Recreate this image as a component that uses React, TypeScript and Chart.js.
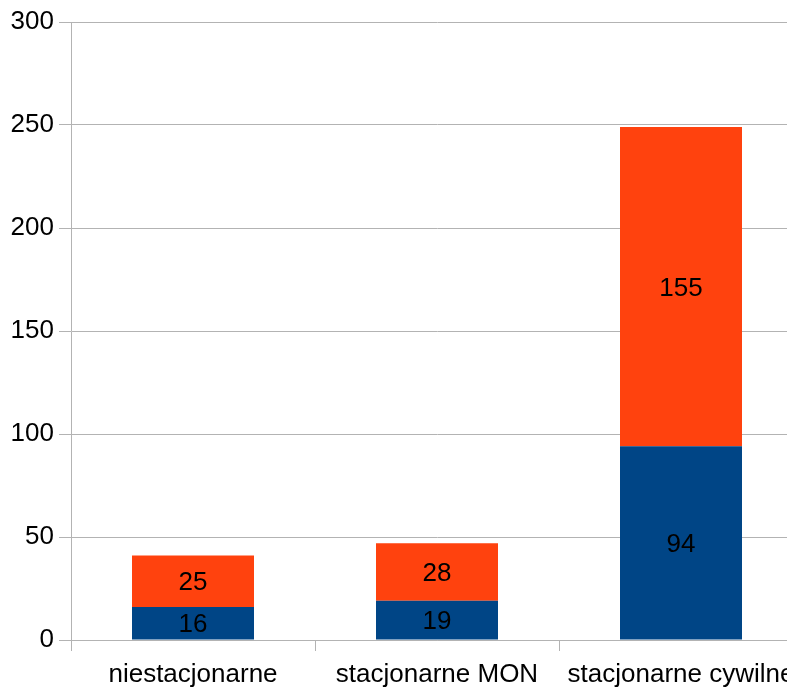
import React, { useEffect, useRef } from "react";
import { Chart, registerables } from "chart.js";

Chart.register(...registerables);

const categories = ["niestacjonarne", "stacjonarne MON", "stacjonarne cywilne"];
const seriesBlue = [16, 19, 94];
const seriesOrange = [25, 28, 155];
const yTicks = [0, 50, 100, 150, 200, 250, 300];

const FONT = "'Liberation Sans', Arial, sans-serif";
const GRID = "#b3b3b3";

const labelPlugin = {
  id: "segLabels",
  afterDatasetsDraw(chart: any) {
    const ctx = chart.ctx;
    ctx.save();
    ctx.font = `26px ${FONT}`;
    ctx.fillStyle = "#000";
    ctx.textAlign = "center";
    ctx.textBaseline = "middle";
    chart.data.datasets.forEach((ds: any, i: number) => {
      const meta = chart.getDatasetMeta(i);
      meta.data.forEach((bar: any, j: number) => {
        const top = Math.min(bar.y, bar.base);
        const bottom = Math.max(bar.y, bar.base);
        ctx.fillText(String(ds.data[j]), bar.x, (top + bottom) / 2 + 2);
      });
    });
    ctx.restore();
  },
};

export default function App() {
  const ref = useRef<HTMLCanvasElement | null>(null);
  useEffect(() => {
    if (!ref.current) return;
    const chart = new Chart(ref.current, {
      type: "bar",
      data: {
        labels: categories,
        datasets: [
          { label: "A", data: seriesBlue, backgroundColor: "#004586", barPercentage: 0.5, categoryPercentage: 1 },
          { label: "B", data: seriesOrange, backgroundColor: "#ff420e", barPercentage: 0.5, categoryPercentage: 1 },
        ],
      },
      options: {
        responsive: false,
        animation: false,
        layout: { padding: { top: 22, right: 17, left: 0, bottom: 0 } },
        plugins: { legend: { display: false }, tooltip: { enabled: false } },
        scales: {
          x: {
            stacked: true,
            grid: { display: true, drawOnChartArea: false, color: GRID, tickLength: 11, offset: true },
            border: { color: GRID },
            ticks: { color: "#000", font: { family: FONT, size: 26 }, maxRotation: 0, autoSkip: false, padding: 8 },
            afterFit: (s: any) => { s.height = 48; },
          },
          y: {
            stacked: true,
            min: 0,
            max: 300,
            afterBuildTicks: (s: any) => { s.ticks = yTicks.map((v) => ({ value: v })); },
            grid: { color: GRID, tickLength: 12 },
            border: { color: GRID },
            ticks: { color: "#000", font: { family: FONT, size: 26 }, padding: 5 },
            afterFit: (s: any) => { s.width = 71; },
          },
        },
      },
      plugins: [labelPlugin],
    });
    return () => chart.destroy();
  }, []);
  return (
    <div style={{ position: "absolute", left: 0, top: 0, width: 787, height: 688, overflow: "hidden", background: "#fff" }}>
      <canvas ref={ref} width={820} height={688} style={{ display: "block" }} />
    </div>
  );
}
